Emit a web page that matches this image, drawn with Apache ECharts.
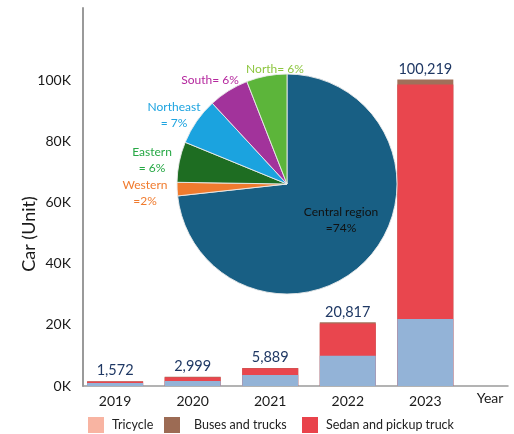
<!DOCTYPE html>
<html>
<head>
<meta charset="utf-8">
<script src="https://cdn.jsdelivr.net/npm/echarts@6/dist/echarts.min.js"></script>
<style>
  html, body { margin: 0; padding: 0; background: #fff; }
  #chart { width: 514px; height: 434px; }
</style>
</head>
<body>
<div id="chart"></div>
<script>
// Yearly car counts by vehicle type
const years = [2019, 2020, 2021, 2022, 2023];
const totals = [1572, 2999, 5889, 20817, 100219];
const tricycle = [1000, 1650, 3600, 9900, 21900];
const sedanPickup = [500, 1249, 2189, 10517, 76719];
const busesTrucks = [72, 100, 100, 400, 1600];
const yTicks = [0, 20000, 40000, 60000, 80000, 100000];

// Regional share of cars (%)
const regions = ['Central region', 'Western', 'Eastern', 'Northeast', 'South', 'North'];
const shares = [74, 2, 6, 7, 6, 6];
const shareSep = ['\n=', '\n=', '\n= ', '\n= ', '= ', '= '];

const FONT = 'Lato, "Open Sans", sans-serif';

const regionColors = ['#185f84', '#f07b2e', '#1e6d22', '#1ba3df', '#a2339b', '#5cb53a'];
const regionText = ['#111111', '#f07b2e', '#27a845', '#1ea4e0', '#b5289e', '#8dc63f'];
const regionLabelAt = [[341, 220], [145, 193], [152, 160], [174, 115], [210, 80], [275, 69]];

// Stack the segments: each layer is drawn from zero up to its cumulative height,
// upper layers first, so the lower ones paint over them.
const cumLow = tricycle.slice();
const cumMid = tricycle.map((v, i) => v + sedanPickup[i]);
const cumTop = cumMid.map((v, i) => v + busesTrucks[i]);

const pair = (arr) => arr.map((v, i) => [years[i], v]);

const chart = echarts.init(document.getElementById('chart'), null, { renderer: 'canvas' });

function legendBox(name, color, left, textGap) {
  return {
    left: left, top: 417, padding: 0,
    itemWidth: 16, itemHeight: 16, icon: 'rect',
    selectedMode: false,
    data: [{ name: name, itemStyle: { color: color } }],
    textStyle: { fontFamily: FONT, fontSize: 12.5, color: '#222', padding: [0, 0, 0, textGap] }
  };
}

chart.setOption({
  animation: false,
  backgroundColor: '#ffffff',
  grid: { left: 83, right: 6, top: 8, bottom: 48, containLabel: false },
  legend: [
    legendBox('Tricycle', '#f8b4a2', 88, 3),
    legendBox('Buses and trucks', '#9c6b54', 164, 9),
    legendBox('Sedan and pickup truck', '#e9434b', 302, 3)
  ],
  xAxis: {
    type: 'value',
    min: 2018.586,
    max: 2024.066,
    minInterval: 1,
    splitLine: { show: false },
    axisTick: { show: false },
    axisLine: { show: true, lineStyle: { color: '#9a9a9a', width: 1.5 } },
    axisLabel: {
      margin: 8,
      fontFamily: FONT, fontSize: 14, color: '#1a1a1a',
      showMinLabel: false, showMaxLabel: false,
      formatter: (v) => (years.indexOf(Math.round(v)) >= 0 && Math.abs(v - Math.round(v)) < 1e-6) ? String(Math.round(v)) : ''
    },
    name: 'Year',
    nameLocation: 'end',
    nameGap: -18,
    nameMoveOverlap: false,
    nameTextStyle: {
      fontFamily: FONT, fontSize: 14, color: '#1a1a1a',
      align: 'center', verticalAlign: 'top', padding: [5, 0, 0, 0]
    }
  },
  yAxis: {
    type: 'value',
    min: 0,
    max: 123600,
    interval: 20000,
    splitLine: { show: false },
    axisTick: { show: false },
    axisLine: { show: true, lineStyle: { color: '#9a9a9a', width: 2 } },
    axisLabel: {
      margin: 12,
      fontFamily: FONT, fontSize: 14, color: '#1a1a1a',
      formatter: (v) => yTicks.indexOf(v) >= 0 ? (v / 1000) + 'K' : ''
    },
    name: 'Car (Unit)',
    nameLocation: 'middle',
    nameRotate: 90,
    nameGap: 45,
    nameMoveOverlap: false,
    nameTextStyle: { fontFamily: FONT, fontSize: 18, color: '#1a1a1a', padding: [0, 74, 0, 0] }
  },
  series: [
    {
      name: 'Buses and trucks', type: 'bar', barWidth: 56, barGap: '-100%',
      itemStyle: { color: '#a0705a' },
      data: pair(cumTop),
      label: {
        show: true, position: 'top', distance: 3,
        fontFamily: FONT, fontSize: 14.5, color: '#1f3864',
        formatter: (p) => totals[p.dataIndex].toLocaleString('en-US')
      }
    },
    {
      name: 'Sedan and pickup truck', type: 'bar', barWidth: 56, barGap: '-100%',
      itemStyle: { color: '#e9464e' },
      data: pair(cumMid)
    },
    {
      name: 'Tricycle', type: 'bar', barWidth: 56, barGap: '-100%',
      itemStyle: { color: '#93b3d7' },
      data: pair(cumLow)
    },
    {
      name: 'Region share', type: 'pie',
      center: [287, 184], radius: 110,
      startAngle: 90, clockwise: true,
      z: 10,
      itemStyle: { borderColor: 'rgba(235,235,235,0.9)', borderWidth: 1 },
      labelLine: { show: false },
      label: {
        show: true, position: 'outside',
        fontFamily: FONT, fontSize: 12, lineHeight: 16, align: 'center',
        formatter: (p) => regions[p.dataIndex] + shareSep[p.dataIndex] + shares[p.dataIndex] + '%'
      },
      labelLayout: (p) => ({
        x: regionLabelAt[p.dataIndex][0],
        y: regionLabelAt[p.dataIndex][1],
        align: 'center', verticalAlign: 'middle', hideOverlap: false
      }),
      emphasis: { disabled: true },
      data: regions.map((r, i) => ({
        name: r, value: shares[i],
        itemStyle: { color: regionColors[i] },
        label: { color: regionText[i] }
      }))
    }
  ]
});
</script>
</body>
</html>
